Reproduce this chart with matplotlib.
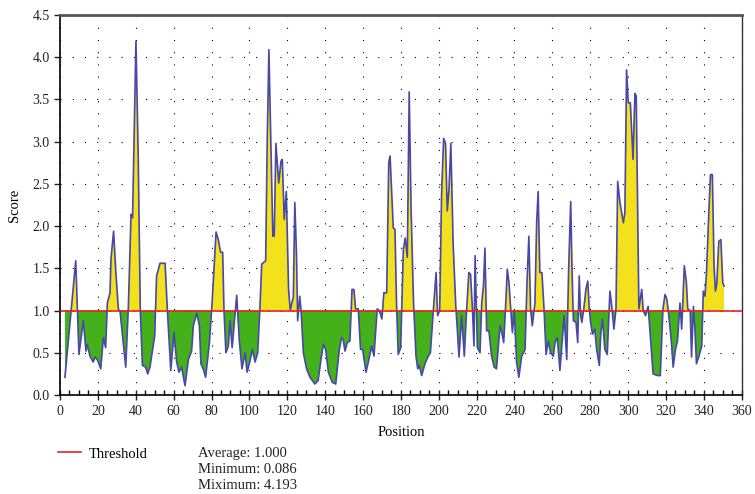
import matplotlib
matplotlib.use("Agg")
import matplotlib.pyplot as plt
import numpy as np
from matplotlib.ticker import MultipleLocator

# score profile (position, score)
position = [
    2.6, 8.3, 10.0, 12.3, 13.7, 14.4, 15.8, 17.5, 18.5, 19.9, 21.5, 22.9, 24.1, 25.0, 26.4,
    26.9, 28.3, 29.5, 30.8, 31.7, 33.5, 34.7, 36.1, 37.5, 38.3, 40.1, 41.3, 42.4, 43.5, 45.2,
    46.3, 47.5, 50.0, 51.0, 52.8, 55.5, 56.7, 58.5, 60.2, 61.6, 62.8, 64.2, 66.0, 67.8, 69.5,
    70.4, 72.2, 73.6, 74.4, 75.6, 76.9, 78.9, 80.3, 82.4, 83.6, 84.8, 85.9, 86.6, 87.6, 88.9,
    89.8, 90.9, 93.3, 94.7, 96.1, 97.7, 98.8, 100.3, 101.6, 103.0, 104.4, 105.6, 106.5, 108.6,
    109.4, 110.3, 111.4, 112.4, 113.1, 114.0, 115.5, 116.7, 117.4, 118.4, 119.5, 120.7, 121.6,
    122.3, 123.2, 124.0, 124.9, 125.5, 126.6, 127.3, 128.5, 130.2, 132.0, 134.6, 136.3, 137.8,
    139.1, 140.3, 141.7, 143.8, 145.6, 147.5, 148.7, 149.5, 150.5, 151.7, 153.1, 154.2, 155.2,
    156.1, 157.5, 158.7, 159.8, 161.6, 162.8, 164.6, 165.8, 167.5, 168.6, 170.0, 171.0, 172.5,
    173.6, 174.3, 175.2, 176.0, 176.9, 177.7, 178.6, 179.9, 181.3, 182.3, 183.4, 184.4, 185.4,
    186.7, 188.0, 188.9, 189.7, 191.0, 192.7, 194.5, 195.6, 197.2, 198.6, 199.4, 200.5, 201.5,
    202.6, 203.6, 204.5, 205.4, 206.4, 207.6, 209.0, 209.8, 210.7, 212.1, 213.5, 214.7, 215.9,
    216.8, 217.8, 218.6, 219.2, 220.4, 221.8, 222.7, 223.6, 224.4, 225.3, 226.5, 227.9, 229.3,
    230.5, 232.4, 233.3, 234.3, 235.4, 236.2, 237.1, 238.0, 238.9, 239.9, 241.1, 242.3, 243.8,
    245.6, 246.6, 247.6, 248.5, 249.4, 250.8, 251.7, 252.5, 253.4, 254.5, 255.6, 256.7, 257.9,
    259.1, 260.5, 261.4, 262.6, 264.0, 265.0, 266.2, 267.6, 268.6, 269.7, 270.4, 271.1, 272.5,
    273.4, 274.2, 274.9, 275.6, 276.6, 277.7, 278.7, 279.5, 280.2, 281.2, 282.4, 283.4, 284.8,
    285.6, 286.5, 287.7, 289.0, 290.4, 291.2, 292.5, 293.6, 294.5, 295.7, 297.5, 298.3, 299.2,
    300.1, 301.2, 302.6, 303.6, 304.3, 305.7, 307.2, 308.0, 309.2, 310.6, 312.0, 313.2, 315.6,
    317.0, 318.4, 319.5, 320.5, 321.5, 322.9, 323.8, 325.0, 326.1, 327.4, 328.3, 329.7, 330.8,
    331.5, 332.8, 333.5, 334.5, 335.3, 336.1, 337.4, 338.9, 339.7, 340.6, 341.4, 342.7, 343.5,
    344.5, 345.4, 346.1, 346.8, 347.9, 349.0, 350.0, 350.7,
]
score = [
    0.21, 1.59, 0.48, 0.88, 0.52, 0.60, 0.46, 0.39, 0.45, 0.41, 0.31, 0.68, 0.56, 1.09, 1.21,
    1.61, 1.94, 1.45, 1.02, 0.99, 0.60, 0.33, 1.05, 2.14, 2.10, 4.19, 2.83, 1.00, 0.35, 0.33,
    0.25, 0.33, 0.70, 1.41, 1.56, 1.56, 1.00, 0.29, 0.74, 0.39, 0.27, 0.33, 0.11, 0.42, 0.52,
    0.82, 0.97, 0.82, 0.37, 0.31, 0.21, 0.62, 1.09, 1.93, 1.84, 1.69, 1.69, 1.00, 0.50, 0.58,
    0.88, 0.56, 1.18, 0.64, 0.31, 0.50, 0.27, 0.40, 0.54, 0.39, 0.50, 1.05, 1.55, 1.59,
    2.98, 4.09, 2.90, 1.88, 1.88, 2.98, 2.51, 2.77, 2.79, 2.08, 2.41, 1.25, 1.00,
    1.08, 1.16, 2.28, 1.65, 0.88, 1.17, 1.00, 0.50, 0.31, 0.21, 0.13, 0.17, 0.42,
    0.60, 0.54, 0.27, 0.15, 0.13, 0.54, 0.68, 0.66, 0.52, 0.62, 0.64, 1.25, 1.25,
    1.02, 1.02, 0.54, 0.54, 0.27, 0.39, 0.58, 0.46, 1.02, 1.00, 0.90, 1.21, 1.21,
    2.75, 2.83, 2.39, 1.98, 1.96, 1.09, 0.48, 0.56, 1.72, 1.86, 1.63, 3.59, 2.20,
    1.09, 0.46, 0.31, 0.35, 0.23, 0.37, 0.46, 0.50, 1.02, 1.45, 0.94, 1.00, 2.39,
    3.04, 2.98, 2.18, 2.43, 2.98, 1.80, 1.05, 0.78, 0.45, 0.94, 0.46, 1.00, 1.45,
    1.43, 1.02, 0.58, 1.65, 0.56, 0.50, 1.09, 1.29, 1.74, 0.76, 0.76, 0.46, 0.33,
    0.31, 0.82, 0.74, 0.62, 1.09, 1.49, 1.33, 1.02, 0.74, 1.00, 0.39, 0.21, 0.46,
    0.54, 1.33, 1.88, 1.02, 0.82, 1.09, 2.04, 2.41, 1.45, 1.45, 1.02, 0.48, 0.64,
    0.50, 0.46, 0.62, 0.68, 0.29, 0.58, 0.94, 0.42, 1.49, 2.29, 1.49, 0.88, 0.86,
    0.62, 1.41, 0.94, 0.86, 1.02, 1.25, 1.35, 1.02, 0.86, 0.72, 0.78, 0.54, 0.35,
    0.74, 0.90, 0.54, 0.48, 1.23, 1.09, 0.78, 1.02, 2.53, 2.28, 2.04, 2.16, 3.85,
    3.46, 3.46, 2.79, 3.57, 3.54, 1.02, 1.25, 1.00, 0.94, 1.05, 0.62, 0.25, 0.23,
    0.23, 1.02, 1.19, 1.13, 0.94, 0.62, 0.33, 0.54, 0.64, 1.09, 0.78, 1.53, 1.33,
    1.02, 1.00, 0.45, 1.05, 0.78, 0.37, 0.46, 0.58, 1.23, 1.17, 1.45, 2.20, 2.61,
    2.61, 1.53, 1.23, 1.31, 1.82, 1.84, 1.33, 1.29,
]
threshold = 1.0
stats_lines = ["Average: 1.000", "Minimum: 0.086", "Miximum: 4.193"]

plt.rcParams["font.family"] = ["Liberation Serif", "DejaVu Serif"]
plt.rcParams["font.size"] = 10

x = np.array(position)
y = np.array(score)

fig = plt.figure(figsize=(7.55, 4.94), dpi=100)
ax = fig.add_axes([0.0795, 0.2004, 0.9029, 0.7692])

ax.fill_between(x, y, threshold, where=y >= threshold, interpolate=True,
                color="#F2E11C", lw=0, zorder=2)
ax.fill_between(x, y, threshold, where=y <= threshold, interpolate=True,
                color="#44B01A", lw=0, zorder=2)
ax.plot(x, y, color="#4848A8", lw=1.2, zorder=3)
thr = ax.axhline(threshold, color="#E32222", lw=1.2, zorder=4, label="Threshold")

ax.set_xlim(0, 360)
ax.set_ylim(0, 4.5)
ax.xaxis.set_major_locator(MultipleLocator(20))
ax.xaxis.set_minor_locator(MultipleLocator(5))
ax.yaxis.set_major_locator(MultipleLocator(0.5))
ax.yaxis.set_major_formatter(matplotlib.ticker.FormatStrFormatter("%.1f"))
ax.tick_params(axis="x", which="major", direction="inout", length=7, width=1)
ax.tick_params(axis="x", which="minor", direction="in", length=3.5, width=1)
ax.tick_params(axis="y", which="major", direction="out", length=4, width=1)
ax.tick_params(labelsize=10, colors="#222222")

ax.set_axisbelow(True)
ax.grid(True, which="major", color="black", lw=0.8, ls=(0, (1, 10)))

ax.spines["top"].set_color("#555555")
ax.spines["top"].set_linewidth(2)
ax.spines["right"].set_color("#333333")
ax.spines["right"].set_linewidth(1)
ax.spines["left"].set_linewidth(1.2)
ax.spines["bottom"].set_linewidth(1.2)

ax.set_xlabel("Position", fontsize=10.5, labelpad=6)
ax.set_ylabel("Score", fontsize=10.5, labelpad=8)

ax.legend(handles=[thr], loc="center left", bbox_to_anchor=(0.077, 0.081),
          bbox_transform=fig.transFigure, frameon=False, fontsize=10.5,
          handlelength=1.6, handletextpad=0.5, borderaxespad=0, borderpad=0)
fig.text(0.262, 0.049, "\n".join(stats_lines), fontsize=10.5, va="center",
         linespacing=1.3, color="#222222")

fig.savefig("out.png", dpi=100)
